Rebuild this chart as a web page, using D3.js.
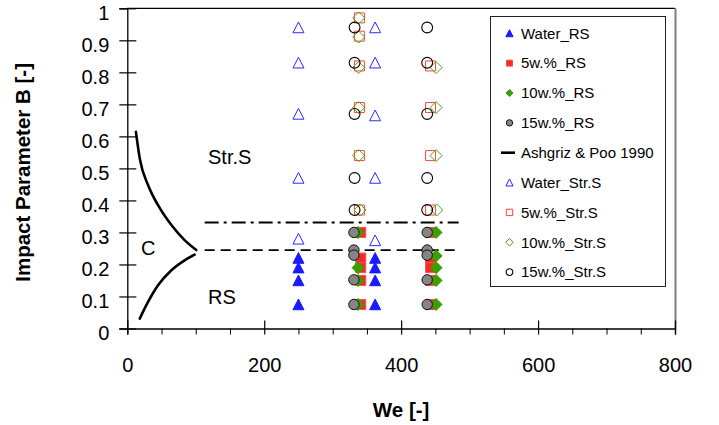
<!DOCTYPE html>
<html>
<head>
<meta charset="utf-8">
<script src="https://cdn.jsdelivr.net/npm/d3@7"></script>
<style>
  html, body { margin: 0; padding: 0; background: #fff; }
  svg { display: block; font-family: "Liberation Sans", Arial, sans-serif; }
</style>
</head>
<body>
<svg id="chart" width="719" height="425"></svg>
<script>
// Collision regimes: impact parameter B versus Weber number We
const xTicks = [0, 200, 400, 600, 800];
const xMinorTicks = [50, 100, 150, 250, 300, 350, 450, 500, 550, 650, 700, 750];
const yTicks = [0, 0.1, 0.2, 0.3, 0.4, 0.5, 0.6, 0.7, 0.8, 0.9, 1];

// Reflexive separation (RS)
const waterRS_We = [250, 250, 250, 250, 362, 362, 362, 362];
const waterRS_B  = [0.22, 0.19, 0.15, 0.075, 0.22, 0.19, 0.15, 0.075];

const w5RS_We = [341, 341, 341, 341, 341, 443, 443, 443, 443, 443];
const w5RS_B  = [0.30, 0.22, 0.19, 0.15, 0.075, 0.30, 0.22, 0.19, 0.15, 0.075];

const w10RS_We = [337, 337, 337, 337, 451, 451, 451, 451, 451];
const w10RS_B  = [0.30, 0.19, 0.15, 0.075, 0.30, 0.227, 0.19, 0.15, 0.075];

const w15RS_We = [331, 331, 331, 331, 331, 438, 438, 438, 438, 438];
const w15RS_B  = [0.30, 0.245, 0.229, 0.152, 0.075, 0.30, 0.245, 0.229, 0.152, 0.075];

// Stretching separation (Str.S)
const waterStrS_We = [250, 250, 250, 250, 250, 362, 362, 362, 362, 362];
const waterStrS_B  = [0.94, 0.83, 0.67, 0.47, 0.28, 0.94, 0.83, 0.665, 0.47, 0.275];

const w5StrS_We = [339, 339, 339, 339, 339, 339, 443, 443, 443, 443];
const w5StrS_B  = [0.97, 0.913, 0.82, 0.69, 0.54, 0.37, 0.82, 0.69, 0.54, 0.37];

const w10StrS_We = [338, 338, 338, 338, 338, 340, 451, 451, 451, 452];
const w10StrS_B  = [0.97, 0.91, 0.815, 0.69, 0.54, 0.37, 0.815, 0.69, 0.54, 0.37];

const w15StrS_We = [332, 332, 332, 332, 332, 438, 438, 438, 438, 438];
const w15StrS_B  = [0.94, 0.83, 0.67, 0.47, 0.37, 0.94, 0.83, 0.67, 0.47, 0.37];

// Ashgriz & Poo 1990 boundaries (upper and lower branch)
const apUpper_We = [12.6, 18.2, 30.3, 44.9, 64.4, 83.7, 100.8];
const apUpper_B  = [0.614, 0.531, 0.448, 0.385, 0.323, 0.276, 0.245];
const apLower_We = [18.2, 30.3, 44.9, 64.4, 83.7, 98.3];
const apLower_B  = [0.031, 0.083, 0.135, 0.182, 0.213, 0.231];

// Horizontal regime limits
const dashDot_We = [113, 484];
const dashDot_B  = [0.331, 0.331];
const dashed_We  = [113, 487];
const dashed_B   = [0.245, 0.245];

const svg = d3.select("#chart");
const x = d3.scaleLinear().domain([0, 800]).range([127.3, 675]);
const y = d3.scaleLinear().domain([0, 1]).range([328.5, 8.3]);

// Marker shapes, sized by half-width
const shapes = {
  triangle: { draw(c, h) { c.moveTo(0, -h); c.lineTo(h, h * 0.95); c.lineTo(-h, h * 0.95); c.closePath(); } },
  square:   { draw(c, h) { c.rect(-h, -h, 2 * h, 2 * h); } },
  diamond:  { draw(c, h) { c.moveTo(0, -h); c.lineTo(h, 0); c.lineTo(0, h); c.lineTo(-h, 0); c.closePath(); } },
  circle:   { draw(c, h) { c.moveTo(h, 0); c.arc(0, 0, h, 0, 2 * Math.PI); } }
};

const series = [
  { name: "Water_RS",    we: waterRS_We,   b: waterRS_B,   shape: "triangle", size: 5.5, fill: "#1a1aff", stroke: "#1a1aff", sw: 1, lsize: 3.6 },
  { name: "5w.%_RS",     we: w5RS_We,      b: w5RS_B,      shape: "square",   size: 5,   fill: "#f52a2a", stroke: "#ff5050", sw: 1, lsize: 3 },
  { name: "10w.%_RS",    we: w10RS_We,     b: w10RS_B,     shape: "diamond",  size: 6,   fill: "#3c9e00", stroke: "#3c9e00", sw: 1, lsize: 3.6 },
  { name: "15w.%_RS",    we: w15RS_We,     b: w15RS_B,     shape: "circle",   size: 5.2, fill: "#858585", stroke: "#111", sw: 1, lsize: 3.2 },
  { name: "Ashgriz & Poo 1990", line: true },
  { name: "Water_Str.S", we: waterStrS_We, b: waterStrS_B, shape: "triangle", size: 5.5, fill: "none", stroke: "#2a2aff", sw: 1, lsize: 3.6 },
  { name: "5w.%_Str.S",  we: w5StrS_We,    b: w5StrS_B,    shape: "square",   size: 5,   fill: "none", stroke: "#ff4040", sw: 1, lsize: 3.2 },
  { name: "10w.%_Str.S", we: w10StrS_We,   b: w10StrS_B,   shape: "diamond",  size: 6,   fill: "none", stroke: "#4aa80a", sw: 1, lsize: 3.8 },
  { name: "15w.%_Str.S", we: w15StrS_We,   b: w15StrS_B,   shape: "circle",   size: 5.4, fill: "none", stroke: "#000", sw: 1.1, lsize: 3.4 }
];

// Plot frame: top and right
svg.append("line").attr("x1", x(0)).attr("x2", x(800)).attr("y1", y(1)).attr("y2", y(1))
  .attr("stroke", "#000").attr("stroke-width", 1.3);
svg.append("line").attr("x1", x(800) + 0.5).attr("x2", x(800) + 0.5).attr("y1", y(1)).attr("y2", y(0))
  .attr("stroke", "#808080").attr("stroke-width", 2);

// X axis: major ticks cross the axis, minor ticks below
const xAxisG = svg.append("g").attr("transform", `translate(0,${y(0)})`)
  .call(d3.axisBottom(x).tickValues(xTicks).tickSize(6).tickFormat(d3.format("d")));
xAxisG.select(".domain").attr("stroke", "#000").attr("stroke-width", 1.3);
xAxisG.selectAll(".tick line").attr("y1", -8).attr("y2", 6).attr("stroke", "#000").attr("stroke-width", 1.2);
xAxisG.selectAll(".tick text").attr("y", 29).attr("font-size", 20)
  .attr("font-family", "Liberation Sans, Arial, sans-serif").attr("fill", "#000");
const xMinorG = svg.append("g").attr("transform", `translate(0,${y(0)})`)
  .call(d3.axisBottom(x).tickValues(xMinorTicks).tickSize(6).tickFormat(""));
xMinorG.select(".domain").remove();
xMinorG.selectAll(".tick line").attr("stroke", "#000").attr("stroke-width", 1);

// Y axis
const yAxisG = svg.append("g").attr("transform", `translate(${x(0)},0)`)
  .call(d3.axisLeft(y).tickValues(yTicks).tickSize(8).tickPadding(10)
    .tickFormat(d => d3.format("~g")(d)));
yAxisG.select(".domain").attr("stroke", "#000").attr("stroke-width", 1.3);
yAxisG.selectAll(".tick line").attr("x1", 9).attr("x2", -8).attr("stroke", "#000").attr("stroke-width", 1.2);
yAxisG.selectAll(".tick text").attr("x", -18).attr("y", 5).attr("font-size", 20)
  .attr("font-family", "Liberation Sans, Arial, sans-serif").attr("fill", "#000");

// Axis titles
svg.append("text").attr("x", (x(0) + x(800)) / 2).attr("y", 417)
  .attr("text-anchor", "middle").attr("font-size", 20.5).attr("font-weight", "bold")
  .text("We [-]");
svg.append("text").attr("transform", `translate(30,${(y(0) + y(1)) / 2 + 4}) rotate(-90)`)
  .attr("text-anchor", "middle").attr("font-size", 20.5).attr("font-weight", "bold")
  .text("Impact Parameter B [-]");

// Regime limits
const lineGen = d3.line().x(d => x(d[0])).y(d => y(d[1]));
const zipPts = (a, b) => a.map((v, i) => [v, b[i]]);
svg.append("path").attr("d", lineGen(zipPts(dashDot_We, dashDot_B)))
  .attr("fill", "none").attr("stroke", "#000").attr("stroke-width", 1.8)
  .attr("stroke-dasharray", "14,5,3,5");
svg.append("path").attr("d", lineGen(zipPts(dashed_We, dashed_B)))
  .attr("fill", "none").attr("stroke", "#000").attr("stroke-width", 1.8)
  .attr("stroke-dasharray", "10,6");

// Ashgriz & Poo curves
const curveGen = d3.line().x(d => x(d[0])).y(d => y(d[1])).curve(d3.curveMonotoneX);
[zipPts(apUpper_We, apUpper_B), zipPts(apLower_We, apLower_B)].forEach(pts => {
  svg.append("path").attr("d", curveGen(pts))
    .attr("fill", "none").attr("stroke", "#000").attr("stroke-width", 2.6).attr("stroke-linecap", "round");
});

// Regime labels
const lbl = [["Str.S", 208, 164], ["C", 141, 255], ["RS", 208, 304]];
lbl.forEach(([t, lx, ly]) => svg.append("text").attr("x", lx).attr("y", ly)
  .attr("font-size", 20).attr("fill", "#000").text(t));

// Markers
series.filter(s => !s.line).forEach(s => {
  const sym = d3.symbol().type(shapes[s.shape]).size(s.size);
  svg.append("g").selectAll("path").data(zipPts(s.we, s.b)).join("path")
    .attr("transform", d => `translate(${x(d[0])},${y(d[1])})`)
    .attr("d", sym)
    .attr("fill", s.fill).attr("stroke", s.stroke).attr("stroke-width", s.sw);
});

// Legend
const lg = svg.append("g");
lg.append("rect").attr("x", 490.5).attr("y", 16.5).attr("width", 175).attr("height", 270)
  .attr("fill", "#fff").attr("stroke", "#222").attr("stroke-width", 1);
series.forEach((s, i) => {
  const ly = 33.3 + i * 29.85;
  if (s.line) {
    lg.append("line").attr("x1", 501).attr("x2", 515).attr("y1", ly).attr("y2", ly)
      .attr("stroke", "#000").attr("stroke-width", 2.6);
  } else {
    lg.append("path").attr("transform", `translate(509.5,${ly})`)
      .attr("d", d3.symbol().type(shapes[s.shape]).size(s.lsize)())
      .attr("fill", s.fill).attr("stroke", s.stroke).attr("stroke-width", s.sw);
  }
  lg.append("text").attr("x", 521).attr("y", ly + 5.3).attr("font-size", 15).attr("fill", "#000").text(s.name);
});
</script>
</body>
</html>
